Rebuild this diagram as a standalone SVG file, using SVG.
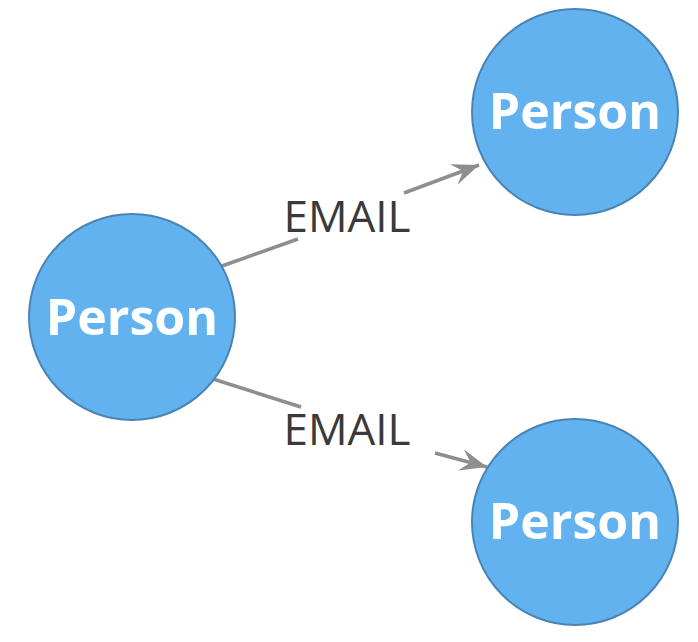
<svg xmlns="http://www.w3.org/2000/svg" width="698" height="642" viewBox="0 0 698 642">
<style>
.node circle{fill:#62b2ef;stroke:#4a84b5;stroke-width:2}
.node text{font-family:"Open Sans","Liberation Sans",sans-serif;font-weight:bold;font-size:50px;fill:#ffffff;text-anchor:middle}
.edge{stroke:#8e8e8e;stroke-width:3.5;fill:none}
.lbl{font-family:"Open Sans","Liberation Sans",sans-serif;font-size:44px;fill:#3a3a3a;text-anchor:middle}
</style>
<defs>
<marker id="arr" markerUnits="userSpaceOnUse" viewBox="-28 -13 30 26" refX="0" refY="0" markerWidth="30" markerHeight="26" orient="auto">
<path d="M0,0 L-27,-11 L-17,0 L-27,11 Z" fill="#8e8e8e"/>
</marker>
</defs>
<rect width="698" height="642" fill="#ffffff"/>
<g id="connectors">
<line class="edge" x1="222" y1="266" x2="298" y2="239"/>
<line class="edge" x1="404" y1="193" x2="479" y2="165" marker-end="url(#arr)"/>
<text class="lbl" x="347" y="232">EMAIL</text>
<line class="edge" x1="213" y1="379" x2="301" y2="407"/>
<line class="edge" x1="435" y1="453" x2="487" y2="467" marker-end="url(#arr)"/>
<text class="lbl" x="347" y="445">EMAIL</text>
</g>
<g id="node-left" class="node">
<circle cx="132" cy="317" r="103"/>
<text x="132" y="335">Person</text>
</g>
<g id="node-top" class="node">
<circle cx="575" cy="112" r="103"/>
<text x="575" y="129">Person</text>
</g>
<g id="node-bottom" class="node">
<circle cx="575" cy="522" r="103"/>
<text x="575" y="539">Person</text>
</g>
</svg>
